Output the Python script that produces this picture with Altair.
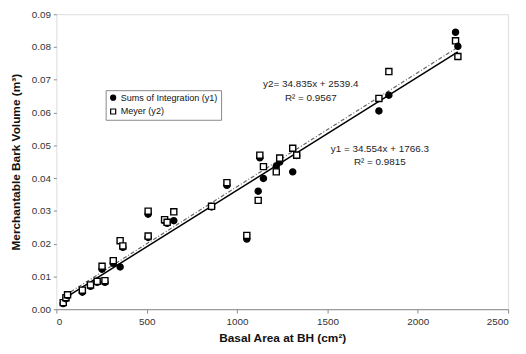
import altair as alt
import pandas as pd

# ---- data ----
basal_area = [38, 53, 62, 144, 189, 226, 269, 253, 315, 353, 368, 508, 508, 599, 613,
              650, 859, 944, 1054, 1117, 1126, 1146, 1217, 1236, 1308, 1330, 1785, 1840,
              2209, 2222]
y1_sums = [0.0017, 0.0032, 0.0042, 0.0052, 0.0070, 0.0082, 0.0082, 0.0122, 0.0140, 0.0129,
           0.0189, 0.0290, 0.0219, 0.0270, 0.0262, 0.0270, 0.0312, 0.0378, 0.0214, 0.0360,
           0.0462, 0.0399, 0.0436, 0.0449, 0.0419, 0.0469, 0.0605, 0.0653, 0.0845, 0.0802]
y2_meyer = [0.0020, 0.0035, 0.0044, 0.0058, 0.0074, 0.0085, 0.0087, 0.0131, 0.0148, 0.0209,
            0.0193, 0.0299, 0.0223, 0.0273, 0.0265, 0.0297, 0.0314, 0.0386, 0.0225, 0.0332,
            0.0470, 0.0435, 0.0419, 0.0461, 0.0491, 0.0470, 0.0643, 0.0725, 0.0819, 0.0771]
series_names = ["Sums of Integration (y1)", "Meyer (y2)"]

# regression equations shown on the chart (cm^3 units -> m^3)
fit_y1 = (34.554, 1766.3)
fit_y2 = (34.835, 2539.4)

x_ticks = [0, 500, 1000, 1500, 2000, 2500]
y_ticks = [0.00, 0.01, 0.02, 0.03, 0.04, 0.05, 0.06, 0.07, 0.08, 0.09]

annot_text = ["y2= 34.835x + 2539.4", "R² = 0.9567", "y1 = 34.554x + 1766.3", "R² = 0.9815"]
annot_x = [1408, 1408, 1790, 1790]
annot_y = [0.0686, 0.0644, 0.0489, 0.0450]

# ---- tables ----
rows = []
for x, a, b in zip(basal_area, y1_sums, y2_meyer):
    rows.append({"x": x, "v": a, "s": series_names[0]})
    rows.append({"x": x, "v": b, "s": series_names[1]})
points_df = pd.DataFrame(rows)

x_lo, x_hi = min(basal_area), max(basal_area)
line_rows = []
for name, (m, c) in [("y1", fit_y1), ("y2", fit_y2)]:
    for x in (x_lo, x_hi):
        line_rows.append({"x": x, "v": (m * x + c) / 1e6, "fit": name})
line_df = pd.DataFrame(line_rows)

annot_df = pd.DataFrame({"t": annot_text, "x": annot_x, "v": annot_y})

FONT = "Liberation Sans"

xscale = alt.Scale(domain=[0, 2500], nice=False)
yscale = alt.Scale(domain=[0, 0.09], nice=False)

x_axis = alt.Axis(values=x_ticks, format="d", grid=False, title="Basal Area at BH (cm²)",
                  labelOverlap=False,
                  domainColor="#8a8a8a", tickColor="#8a8a8a", tickSize=4,
                  labelFont=FONT, labelFontSize=10, labelColor="#333333", labelPadding=4,
                  titleFont=FONT, titleFontSize=12, titleFontWeight="bold",
                  titleColor="#111111", titlePadding=6)
y_axis = alt.Axis(values=y_ticks, format=".2f", grid=False, domain=False,
                  labelOverlap=False, tickCount=10,
                  title="Merchantable Bark Volume (m³)",
                  tickColor="#8a8a8a", tickSize=3, labelPadding=3,
                  labelFont=FONT, labelFontSize=10, labelColor="#333333",
                  titleFont=FONT, titleFontSize=12, titleFontWeight="bold",
                  titleColor="#111111", titlePadding=9)

X = alt.X("x:Q", scale=xscale, axis=x_axis)
Y = alt.Y("v:Q", scale=yscale, axis=y_axis)

line1 = alt.Chart(line_df).transform_filter(alt.datum.fit == "y1").mark_line(
    color="black", strokeWidth=1.5
).encode(x=X, y=Y)

line2 = alt.Chart(line_df).transform_filter(alt.datum.fit == "y2").mark_line(
    color="#666666", strokeWidth=1.2, strokeDash=[4, 2, 1, 2]
).encode(x=X, y=Y)

legend = alt.Legend(title=None, orient="none", legendX=50, legendY=77,
                    strokeColor="#888888", fillColor="white",
                    padding=3, rowPadding=3, labelFont=FONT,
                    labelFontSize=9.2, labelColor="#111111", labelOffset=3,
                    symbolSize=26, symbolStrokeWidth=1.2, cornerRadius=0)

pts = alt.Chart(points_df).mark_point(
    filled=True, strokeWidth=1.4, size=38, opacity=1
).encode(
    x=X,
    y=Y,
    shape=alt.Shape("s:N", scale=alt.Scale(domain=series_names, range=["circle", "square"]),
                    legend=legend),
    fill=alt.Fill("s:N", scale=alt.Scale(domain=series_names, range=["black", "white"]),
                  legend=legend),
    stroke=alt.Stroke("s:N", scale=alt.Scale(domain=series_names, range=["black", "black"]),
                      legend=legend),
)

texts = alt.Chart(annot_df).mark_text(
    font=FONT, fontSize=10, color="#222222", align="center", baseline="middle"
).encode(x=X, y=Y, text="t:N")

chart = alt.layer(line1, line2, pts, texts).properties(
    width=458, height=299,
    autosize=alt.AutoSizeParams(type="none"),
    padding={"left": 49, "top": 4, "right": 10, "bottom": 35},
).configure_view(stroke=None).configure(background="white")

chart.save("out.html", embed_options={"renderer": "svg", "actions": False})
